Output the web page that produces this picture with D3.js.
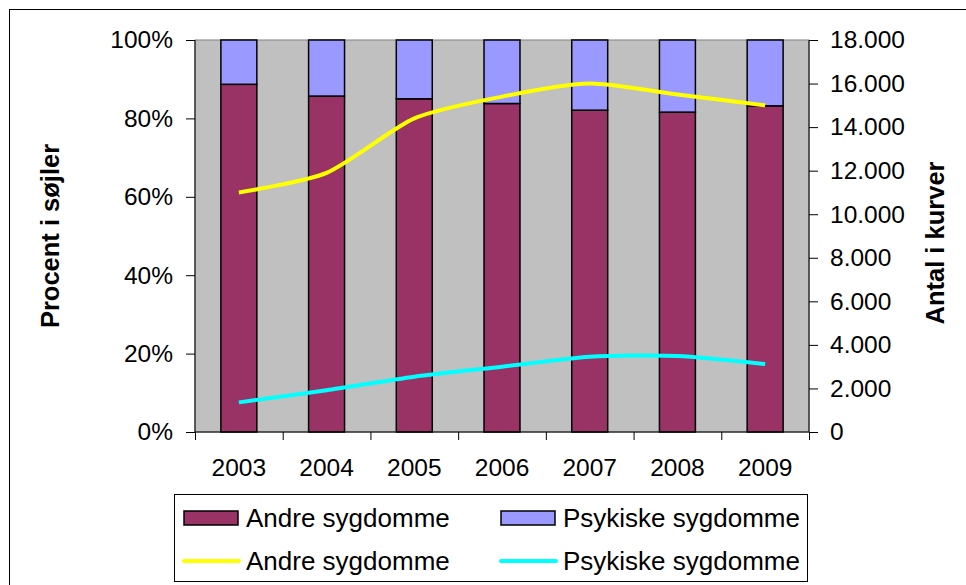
<!DOCTYPE html>
<html>
<head>
<meta charset="utf-8">
<script src="https://cdn.jsdelivr.net/npm/d3@7"></script>
<style>
  html, body { margin: 0; padding: 0; background: #fff; }
  svg { display: block; }
  text { font-family: "Liberation Sans", Arial, sans-serif; fill: #000; }
</style>
</head>
<body>
<svg id="chart" width="966" height="585"></svg>
<script>
// ---- data ----
const years = ["2003", "2004", "2005", "2006", "2007", "2008", "2009"];
const andrePct = [88.7, 85.7, 85.0, 83.8, 82.1, 81.6, 83.2];
const psykPct  = [11.3, 14.3, 15.0, 16.2, 17.9, 18.4, 16.8];
const andreCount = [11000, 11900, 14400, 15400, 16000, 15500, 15000];
const psykCount  = [1360, 1920, 2540, 3000, 3460, 3490, 3120];
const pctTicks = [0, 20, 40, 60, 80, 100];
const countTicks = [0, 2000, 4000, 6000, 8000, 10000, 12000, 14000, 16000, 18000];
const seriesNames = ["Andre sygdomme", "Psykiske sygdomme"];
const leftTitle = "Procent i søjler";
const rightTitle = "Antal i kurver";

const colors = {
  andreBar: "#993366", psykBar: "#9999FF",
  andreLine: "#FFFF00", psykLine: "#00FFFF",
  plotBg: "#C0C0C0"
};

// ---- layout ----
const svg = d3.select("#chart");
const P = { left: 195, right: 809, top: 40, bottom: 432 };

// outer chart border
svg.append("rect").attr("x", 9.5).attr("y", 9.5).attr("width", 980).attr("height", 600)
  .attr("fill", "#fff").attr("stroke", "#000").attr("stroke-width", 1);

// plot area
svg.append("rect").attr("x", P.left).attr("y", P.top)
  .attr("width", P.right - P.left).attr("height", P.bottom - P.top)
  .attr("fill", colors.plotBg).attr("stroke", "#808080").attr("stroke-width", 1);

// scales
const xBand = d3.scaleBand().domain(years).range([P.left, P.right])
  .paddingInner(0.59).paddingOuter(0.295);
const xBound = d3.scaleLinear().domain([0, years.length]).range([P.left, P.right]);
const yPct = d3.scaleLinear().domain([0, 100]).range([P.bottom, P.top]);
const yCnt = d3.scaleLinear().domain([0, 18000]).range([P.bottom, P.top]);

// stacked bars
const rows = years.map((y, i) => ({ year: y, andre: andrePct[i], psyk: psykPct[i] }));
const stack = d3.stack().keys(["andre", "psyk"])(rows);
const barColors = [colors.andreBar, colors.psykBar];
stack.forEach((layer, li) => {
  svg.append("g").selectAll("rect").data(layer).join("rect")
    .attr("x", d => xBand(d.data.year))
    .attr("y", d => yPct(d[1]))
    .attr("width", xBand.bandwidth())
    .attr("height", d => yPct(d[0]) - yPct(d[1]))
    .attr("fill", barColors[li])
    .attr("stroke", "#000").attr("stroke-width", 1.5);
});

// lines
const cx = y => xBand(y) + xBand.bandwidth() / 2;
const lineGen = d3.line().curve(d3.curveCardinal.tension(0.3));
function drawLine(vals, color) {
  svg.append("path")
    .attr("d", lineGen(years.map((y, i) => [cx(y), yCnt(vals[i])])))
    .attr("fill", "none").attr("stroke", color).attr("stroke-width", 4)
    .attr("stroke-linejoin", "round");
}
drawLine(andreCount, colors.andreLine);
drawLine(psykCount, colors.psykLine);

// axes
const tickFont = 24.5;
const leftAxis = d3.axisLeft(yPct).tickValues(pctTicks).tickSize(9).tickPadding(13)
  .tickFormat(d => d + "%");
const gL = svg.append("g").attr("transform", `translate(${P.left},0)`).call(leftAxis);

const loc = d3.formatLocale({ decimal: ",", thousands: ".", grouping: [3], currency: ["", ""] });
const fmt = loc.format(",");
const rightAxis = d3.axisRight(yCnt).tickValues(countTicks).tickSize(9).tickPadding(12)
  .tickFormat(fmt);
const gR = svg.append("g").attr("transform", `translate(${P.right},0)`).call(rightAxis);

const bottomTicks = d3.axisBottom(xBound).tickValues(d3.range(0, years.length + 1))
  .tickSize(8).tickFormat("");
const gB = svg.append("g").attr("transform", `translate(0,${P.bottom})`).call(bottomTicks);
const bottomLabels = d3.axisBottom(xBand).tickSize(0).tickPadding(27);
const gBL = svg.append("g").attr("transform", `translate(0,${P.bottom})`).call(bottomLabels);
gBL.select(".domain").remove();

[gL, gR, gB, gBL].forEach(g => {
  g.selectAll("text").style("font-size", tickFont + "px")
    .style("font-family", '"Liberation Sans", Arial, sans-serif').attr("fill", "#000");
  g.selectAll("line").attr("stroke", "#000").attr("stroke-width", 1);
  g.select(".domain").attr("stroke", "#000").attr("stroke-width", 1);
});
gL.select(".domain").attr("d", `M0,${P.top}V${P.bottom}`);
gR.select(".domain").attr("d", `M0,${P.top}V${P.bottom}`);
gB.select(".domain").attr("d", `M${P.left},0H${P.right}`);

// axis titles
svg.append("text")
  .attr("transform", `translate(59,236) rotate(-90)`)
  .attr("text-anchor", "middle")
  .style("font-size", "25.5px").style("font-weight", "bold")
  .text(leftTitle);
svg.append("text")
  .attr("transform", `translate(944,243) rotate(-90)`)
  .attr("text-anchor", "middle")
  .style("font-size", "25.5px").style("font-weight", "bold")
  .text(rightTitle);

// legend
const lg = svg.append("g");
lg.append("rect").attr("x", 174.5).attr("y", 494.5).attr("width", 633).attr("height", 87)
  .attr("fill", "#fff").attr("stroke", "#000").attr("stroke-width", 1);
const legendItems = [
  { name: seriesNames[0], type: "bar", color: colors.andreBar, col: 0, row: 0 },
  { name: seriesNames[1], type: "bar", color: colors.psykBar, col: 1, row: 0 },
  { name: seriesNames[0], type: "line", color: colors.andreLine, col: 0, row: 1 },
  { name: seriesNames[1], type: "line", color: colors.psykLine, col: 1, row: 1 }
];
const colX = [184, 501];
const rowY = [518, 561];
legendItems.forEach(it => {
  const x0 = colX[it.col], yc = rowY[it.row];
  if (it.type === "bar") {
    lg.append("rect").attr("x", x0).attr("y", yc - 7).attr("width", 54).attr("height", 14)
      .attr("fill", it.color).attr("stroke", "#000").attr("stroke-width", 1.5);
  } else {
    lg.append("line").attr("x1", x0).attr("x2", x0 + 55).attr("y1", yc).attr("y2", yc)
      .attr("stroke", it.color).attr("stroke-width", 4).attr("stroke-linecap", "round");
  }
  lg.append("text").attr("x", x0 + 62).attr("y", yc).attr("dy", "0.35em")
    .style("font-size", "26px").text(it.name);
});
</script>
</body>
</html>
